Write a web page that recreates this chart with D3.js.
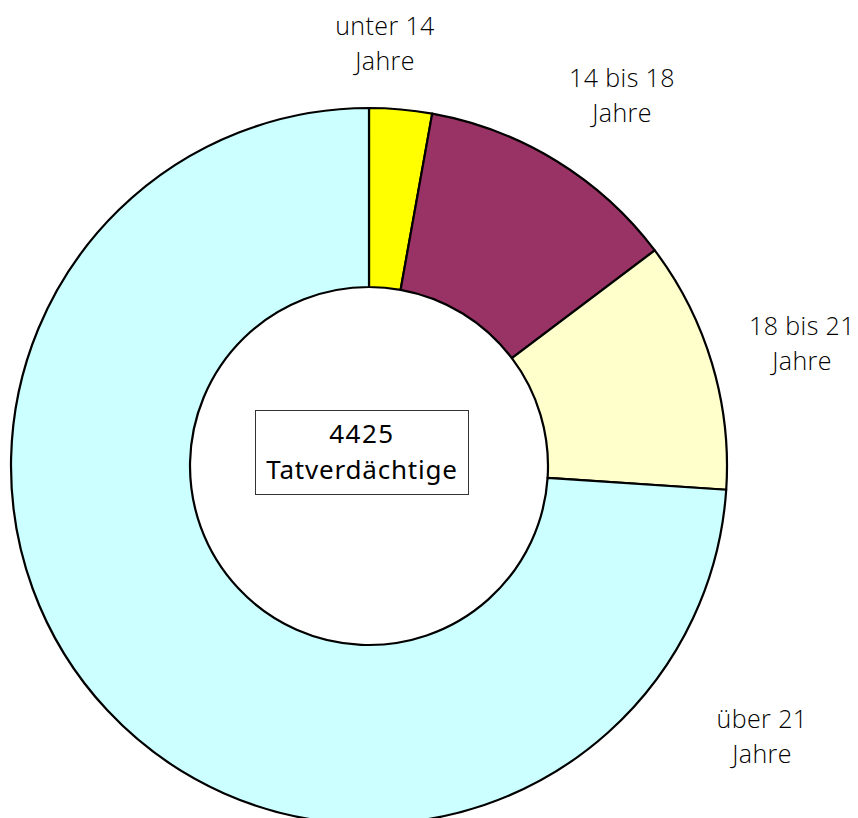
<!DOCTYPE html>
<html>
<head>
<meta charset="utf-8">
<script src="https://cdn.jsdelivr.net/npm/d3@7"></script>
<style>
  html, body { margin: 0; padding: 0; background: #fff; }
  svg { display: block; }
</style>
</head>
<body>
<div id="chart"></div>
<script>
// Tatverdächtige nach Altersgruppen
const categories = ["unter 14 Jahre", "14 bis 18 Jahre", "18 bis 21 Jahre", "über 21 Jahre"];
const values = [125, 526, 502, 3272];
const colors = ["#FFFF00", "#993366", "#FFFFCC", "#CCFFFF"];
const labelLines = [["unter 14", "Jahre"], ["14 bis 18", "Jahre"], ["18 bis 21", "Jahre"], ["über 21", "Jahre"]];
const centerLines = ["4425", "Tatverdächtige"];

// Label anchor positions (centre x, first baseline y)
const labelPos = [[385, 35], [622, 87], [802, 335], [762, 728]];

const width = 858, height = 818;
const cx = 369, cy = 466;
const outerR = 358, innerR = 179;

const svg = d3.select("#chart").append("svg")
  .attr("width", width).attr("height", height);

const pie = d3.pie().sort(null).value(d => d);
const arc = d3.arc().innerRadius(innerR).outerRadius(outerR);

const g = svg.append("g").attr("transform", `translate(${cx},${cy})`);

g.selectAll("path.slice")
  .data(pie(values))
  .join("path")
  .attr("class", "slice")
  .attr("d", arc)
  .attr("fill", (d, i) => colors[i])
  .attr("stroke", "#000")
  .attr("stroke-width", 2.2)
  .attr("stroke-linejoin", "round");

// Category labels
const labelFont = "'Open Sans', 'Noto Sans', sans-serif";
labelLines.forEach((lines, i) => {
  const t = svg.append("text")
    .attr("text-anchor", "middle")
    .attr("font-family", labelFont)
    .attr("font-size", 25)
    .attr("font-weight", 300)
    .attr("letter-spacing", 0.4)
    .attr("fill", "#000");
  lines.forEach((ln, j) => {
    t.append("tspan")
      .attr("x", labelPos[i][0])
      .attr("y", labelPos[i][1] + j * 35)
      .text(ln);
  });
});

// Total in the centre, framed
svg.append("rect")
  .attr("x", 255.5).attr("y", 410.5)
  .attr("width", 213).attr("height", 84)
  .attr("fill", "#fff")
  .attr("stroke", "#333")
  .attr("stroke-width", 1);

const centerFont = "'Noto Sans', 'Open Sans', sans-serif";
svg.append("text")
  .attr("text-anchor", "middle")
  .attr("font-family", centerFont)
  .attr("font-size", 26)
  .attr("letter-spacing", 1.5)
  .attr("fill", "#000")
  .attr("x", 362).attr("y", 443)
  .text(d3.sum(values));
svg.append("text")
  .attr("text-anchor", "middle")
  .attr("font-family", centerFont)
  .attr("font-size", 26)
  .attr("letter-spacing", 0.8)
  .attr("fill", "#000")
  .attr("x", 362).attr("y", 479)
  .text(centerLines[1]);
</script>
</body>
</html>
